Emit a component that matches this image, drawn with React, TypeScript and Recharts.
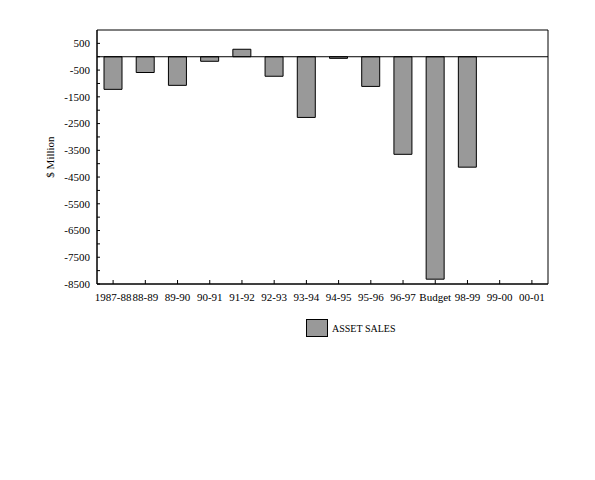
import React from 'react';
import { BarChart, Bar, XAxis, YAxis, ReferenceLine, ReferenceArea, Legend } from 'recharts';

const categories = ['1987-88', '88-89', '89-90', '90-91', '91-92', '92-93', '93-94', '94-95', '95-96', '96-97', 'Budget', '98-99', '99-00', '00-01'];
const assetSales: (number | null)[] = [-1220, -590, -1070, -170, 280, -730, -2270, -60, -1110, -3650, -8320, -4130, null, null];
const yTicks = [-8500, -8000, -7500, -7000, -6500, -6000, -5500, -5000, -4500, -4000, -3500, -3000, -2500, -2000, -1500, -1000, -500, 0, 500];
const yLabelled = [500, -500, -1500, -2500, -3500, -4500, -5500, -6500, -7500, -8500];

const data = categories.map((c, i) => ({ name: c, value: assetSales[i] }));

const FONT = '"Liberation Serif", "Times New Roman", serif';

const YTick = (props: any) => {
  const { x, y, payload } = props;
  const v = payload.value;
  const show = yLabelled.includes(v);
  return (
    <g>
      <line x1={x} x2={x + 3} y1={y} y2={y} stroke="#000" strokeWidth={1} />
      {show && (
        <text x={x - 7} y={y} dy="0.35em" textAnchor="end" fontFamily={FONT} fontSize={11} fill="#000">
          {v}
        </text>
      )}
    </g>
  );
};

const XTick = (props: any) => {
  const { x, y, payload } = props;
  return (
    <g>
      <line x1={x} x2={x} y1={y} y2={y - 4} stroke="#000" strokeWidth={1} />
      <text x={x} y={y + 13} dy="0.35em" textAnchor="middle" fontFamily={FONT} fontSize={11} fill="#000">
        {payload.value}
      </text>
    </g>
  );
};

const LegendContent = () => (
  <svg width={120} height={20}>
    <rect x={0.5} y={0.5} width={21} height={17} fill="#999999" stroke="#000" strokeWidth={1} />
    <text x={26} y={9.5} dy="0.35em" fontFamily={FONT} fontSize={10} fill="#000">ASSET SALES</text>
  </svg>
);

export default function App() {
  return (
    <div style={{ position: 'absolute', left: 0, top: 0, width: 595, height: 480, background: '#fff' }}>
      <BarChart
        width={595}
        height={480}
        data={data}
        margin={{ top: 30, right: 47, bottom: 146, left: 0 }}
        barSize={18}
      >
        <XAxis
          dataKey="name"
          interval={0}
          tickLine={false}
          tickSize={0}
          tickMargin={0}
          height={30}
          axisLine={{ stroke: '#000' }}
          tick={<XTick />}
        />
        <YAxis
          width={97}
          domain={[-8500, 1000]}
          ticks={yTicks}
          interval={0}
          tickLine={false}
          tickSize={0}
          tickMargin={0}
          axisLine={{ stroke: '#000' }}
          tick={<YTick />}
          label={{ value: '$ Million', angle: -90, position: 'insideLeft', offset: 50, style: { fontFamily: FONT, fontSize: 11, fill: '#000', textAnchor: 'middle' } }}
        />
        <ReferenceArea y1={-8500} y2={1000} fill="none" fillOpacity={0} stroke="#000" strokeWidth={1} />
        <ReferenceLine y={0} stroke="#000" strokeWidth={1} />
        <Bar
          dataKey="value"
          name="ASSET SALES"
          fill="#999999"
          stroke="#000"
          strokeWidth={1}
          isAnimationActive={false}
        />
        <Legend content={<LegendContent />} wrapperStyle={{ position: 'absolute', left: 306, top: 319, width: 120, height: 20 }} />
      </BarChart>
    </div>
  );
}
